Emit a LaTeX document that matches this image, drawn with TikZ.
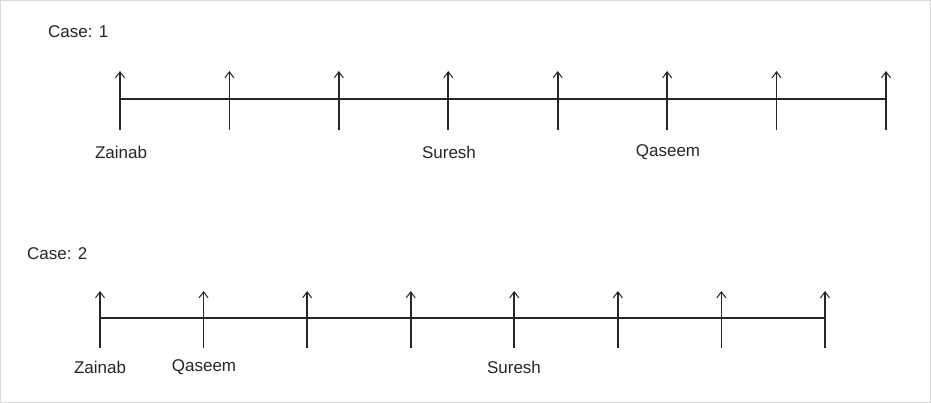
\documentclass[tikz,border=0pt]{standalone}
\usepackage{fontspec}
\setmainfont{Liberation Sans}
\usetikzlibrary{arrows.meta}
\begin{document}
\begin{tikzpicture}[x=1pt,y=-1pt,
  tick/.style={line width=1.6pt,draw=black!85,-{Straight Barb[length=6pt,width=9pt,line width=1pt]}},
  axis/.style={line width=1.6pt,draw=black!85},
  lbl/.style={font=\fontsize{17}{20}\selectfont,text=black!85,inner sep=0pt}]
\useasboundingbox (0,0) rectangle (931,403);
\draw[black!15] (0.5,0.5) rectangle (930.5,402.5);
\node[lbl,anchor=west] (c1) at (48,32) {Case: 1};
\foreach \i in {0,...,7}{
  \coordinate (a\i) at ({120+\i*109.43},130);
  \coordinate (t\i) at ({120+\i*109.43},71);
  \draw[tick] (a\i) -- (t\i);
}
\draw[axis] (a0|-0,99) coordinate (l1s) -- (a7|-0,99) coordinate (l1e);
\node[lbl] (z1) at (121,152) {Zainab};
\node[lbl] (s1) at (449,152) {Suresh};
\node[lbl] (q1) at (668,152) {Qaseem};
\node[lbl,anchor=west] (c2) at (27,254) {Case: 2};
\foreach \i in {0,...,7}{
  \coordinate (b\i) at ({100+\i*103.57},348);
  \coordinate (u\i) at ({100+\i*103.57},291);
  \draw[tick] (b\i) -- (u\i);
}
\draw[axis] (b0|-0,318) -- (b7|-0,318);
\node[lbl] (z2) at (100,367) {Zainab};
\node[lbl] (q2) at (204,367) {Qaseem};
\node[lbl] (s2) at (514,367) {Suresh};
\end{tikzpicture}
\end{document}
